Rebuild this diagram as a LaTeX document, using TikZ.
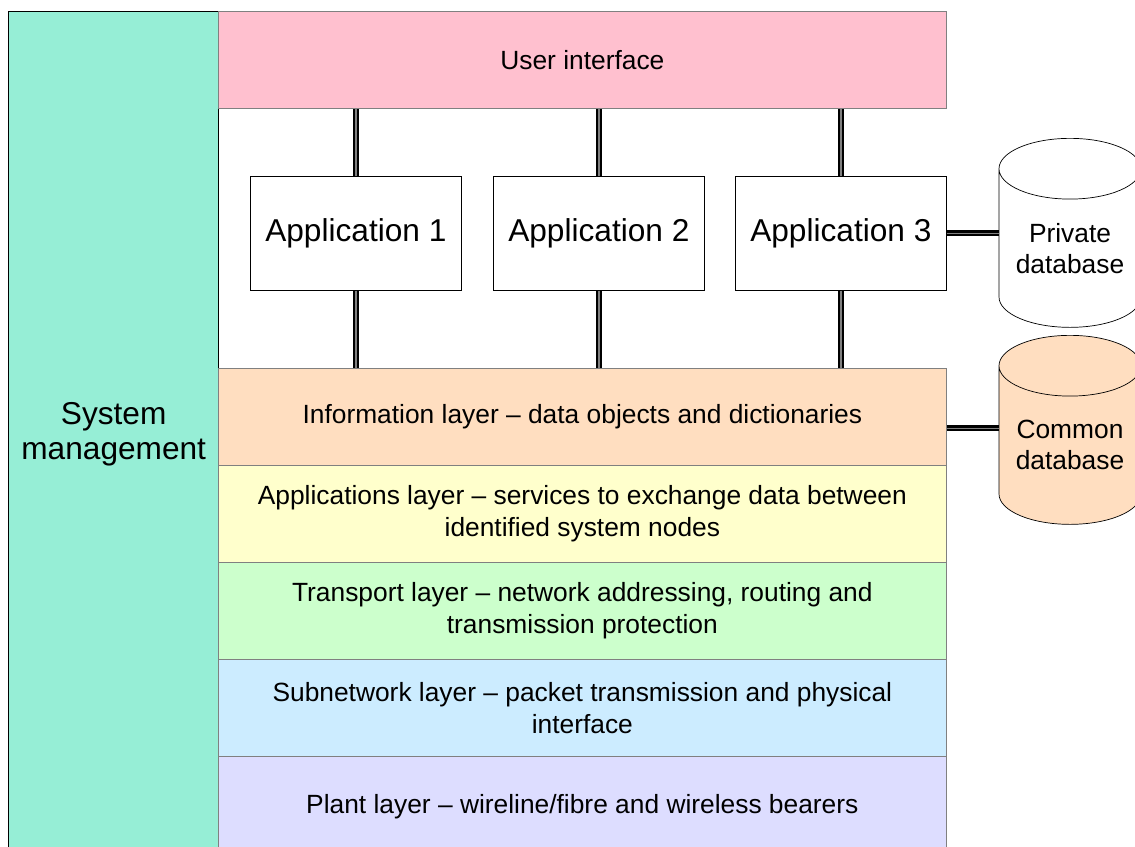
\documentclass[tikz,border=0pt]{standalone}
\usepackage{fontspec}
\setmainfont{Liberation Sans}
\usetikzlibrary{shapes.geometric}
\definecolor{uipink}{RGB}{255,192,207}
\definecolor{peach}{RGB}{255,222,192}
\definecolor{paleyellow}{RGB}{255,255,204}
\definecolor{palegreen}{RGB}{204,255,204}
\definecolor{paleblue}{RGB}{204,236,255}
\definecolor{lavender}{RGB}{221,221,255}
\definecolor{sysgreen}{RGB}{150,238,214}

\begin{document}
\begin{tikzpicture}[x=0.02cm,y=-0.02cm,
  layer/.style={draw=gray,anchor=north west,inner sep=0pt,minimum width=728*0.02cm,minimum height=97*0.02cm,align=center,font=\fontsize{15}{18.5}\selectfont},
  app/.style={draw,anchor=north west,inner sep=0pt,minimum width=211*0.02cm,minimum height=114*0.02cm,font=\fontsize{18}{21}\selectfont},
  dbase/.style={draw,cylinder,shape border rotate=90,aspect=0.56,anchor=north,minimum width=142*0.02cm,minimum height=189*0.02cm,inner sep=0pt,align=center,font=\fontsize{15}{17.5}\selectfont},
  link/.style={line width=1.3pt,double=gray,double distance=0.8pt}]
\useasboundingbox (0,0) rectangle (1135,846);
\node [draw,thick,fill=sysgreen,anchor=north west,inner sep=0pt,minimum width=210*0.02cm,minimum height=845*0.02cm,align=center,font=\fontsize{18}{19.5}\selectfont] (sys) at (8,11) {System\\management};
\node [layer,fill=uipink] (ui) at (218,11) {User interface};
\node [app] (app1) at (250,176) {Application 1};
\node [app] (app2) at (493,176) {Application 2};
\node [app] (app3) at (735,176) {Application 3};
\node [layer,fill=peach] (info) at (218,368) {Information layer -- data objects and dictionaries};
\node [layer,fill=paleyellow] (appl) at (218,465) {Applications layer -- services to exchange data between\\identified system nodes};
\node [layer,fill=palegreen] (trans) at (218,562) {Transport layer -- network addressing, routing and\\transmission protection};
\node [layer,fill=paleblue] (subnet) at (218,659) {Subnetwork layer -- packet transmission and physical\\interface};
\node [layer,fill=lavender,minimum height=100*0.02cm] (plant) at (218,756) {Plant layer -- wireline/fibre and wireless bearers};
\node [dbase,fill=white] (priv) at (1070,138) {Private\\database};
\node [dbase,fill=peach] (comm) at (1070,335) {Common\\database};
\coordinate (commin) at ([yshift=0.34cm]comm.west);
\draw [link] (app1.north) -- (app1.north |- ui.south);
\draw [link] (app2.north) -- (app2.north |- ui.south);
\draw [link] (app3.north) -- (app3.north |- ui.south);
\draw [link] (app1.south) -- (app1.south |- info.north);
\draw [link] (app2.south) -- (app2.south |- info.north);
\draw [link] (app3.south) -- (app3.south |- info.north);
\draw [link] (app3.east) -- (app3.east -| priv.west);
\draw [link] (info.east |- commin) -- (commin);
\end{tikzpicture}
\end{document}
